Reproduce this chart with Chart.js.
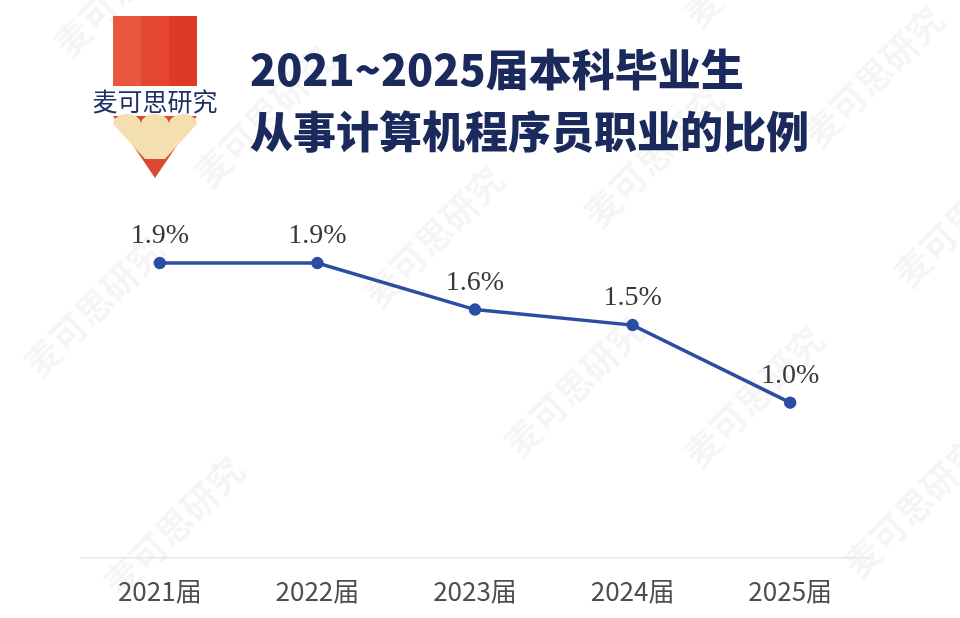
<!DOCTYPE html>
<html>
<head>
<meta charset="utf-8">
<script src="https://cdn.jsdelivr.net/npm/chart.js@4/dist/chart.umd.min.js"></script>
<style>
  html, body { margin: 0; padding: 0; background: #fff; }
  #wrap { position: relative; width: 960px; height: 618px; overflow: hidden; }
  #chart { position: absolute; left: 0; top: 0; }
  #logo { position: absolute; left: 86px; top: 12px; }
  #title {
    position: absolute; left: 250px; top: 36px;
    font-family: "Noto Sans CJK SC", sans-serif; font-weight: 900;
    font-size: 43px; line-height: 62px; color: #1b2a5c; white-space: nowrap;
  }
</style>
</head>
<body>
<div id="wrap">
  <canvas id="chart" width="960" height="618"></canvas>
  <svg id="logo" width="140" height="170" viewBox="0 0 140 170">
    <rect x="27" y="4" width="28" height="70" fill="#e9573f"/>
    <rect x="55" y="4" width="28" height="70" fill="#e4472f"/>
    <rect x="83" y="4" width="28" height="70" fill="#dd3b26"/>
    <polygon points="27,104 111,104 69,166" fill="#d94a30"/>
    <path d="M27,112 A14,10 0 0 1 55,112 A14,10 0 0 1 83,112 A14,10 0 0 1 111,112 L79,147 L59,147 Z" fill="#f4dfb0"/>
    <text x="69" y="99" text-anchor="middle" font-family="Noto Sans CJK SC" font-size="25" fill="#1e2f66">麦可思研究</text>
  </svg>
  <div id="title">2021~2025届本科毕业生<br>从事计算机程序员职业的比例</div>
</div>
<script>
const categories = ["2021届", "2022届", "2023届", "2024届", "2025届"];
const shares = [1.9, 1.9, 1.6, 1.5, 1.0];
const valueLabels = ["1.9%", "1.9%", "1.6%", "1.5%", "1.0%"];

// faint diagonal watermarks behind the chart
const watermark = {
  id: "watermark",
  beforeDraw(chart) {
    const ctx = chart.ctx;
    const spots = [[70, 60], [210, 190], [380, 310], [520, 460], [700, 470], [860, 580],
                   [910, 290], [700, 30], [820, 150], [40, 380], [120, 600], [600, 230]];
    ctx.save();
    ctx.fillStyle = "rgba(0,0,0,0.04)";
    ctx.font = "bold 36px 'Noto Sans CJK SC'";
    spots.forEach(([x, y]) => {
      ctx.save();
      ctx.translate(x, y);
      ctx.rotate(-Math.PI / 4);
      ctx.fillText("麦可思研究", 0, 0);
      ctx.restore();
    });
    ctx.restore();
  }
};

const pointLabels = {
  id: "pointLabels",
  afterDatasetsDraw(chart) {
    const ctx = chart.ctx;
    const meta = chart.getDatasetMeta(0);
    ctx.save();
    ctx.fillStyle = "#383838";
    ctx.font = "28px 'Liberation Serif', serif";
    ctx.textAlign = "center";
    ctx.textBaseline = "middle";
    meta.data.forEach((pt, i) => {
      ctx.fillText(valueLabels[i], pt.x, pt.y - 27);
    });
    ctx.restore();
  }
};

new Chart(document.getElementById("chart"), {
  type: "line",
  data: {
    labels: categories,
    datasets: [{
      data: shares,
      borderColor: "#2b4ea2",
      backgroundColor: "#2b4ea2",
      borderWidth: 3.5,
      pointRadius: 4.5,
      pointHoverRadius: 4.5,
      tension: 0
    }]
  },
  options: {
    responsive: false,
    animation: false,
    layout: { padding: { left: 81, right: 91, top: 170, bottom: -7 } },
    plugins: { legend: { display: false }, tooltip: { enabled: false } },
    scales: {
      x: {
        offset: true,
        grid: { display: false, drawTicks: false },
        border: { display: true, color: "#e6e6e6", width: 1.5 },
        ticks: {
          color: "#4e4e4e",
          padding: 18,
          font: { family: "'Noto Sans CJK SC', sans-serif", size: 26 }
        }
      },
      y: { display: false, min: 0, max: 2.5 }
    }
  },
  plugins: [watermark, pointLabels]
});
</script>
</body>
</html>
